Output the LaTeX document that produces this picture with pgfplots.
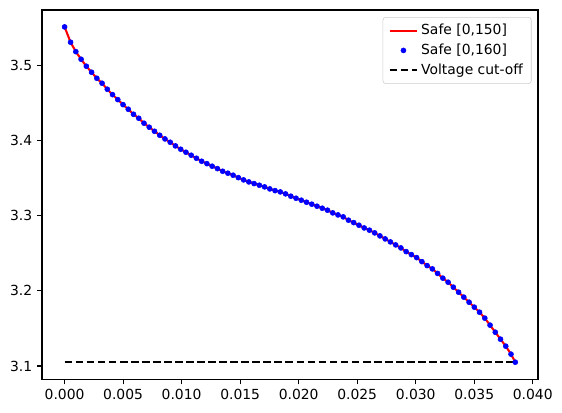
\documentclass[border=0pt]{standalone}
\usepackage{fontspec}
\setmainfont{DejaVu Sans}
\usepackage{pgfplots}
\usepackage{pgfplotstable}
\pgfplotsset{compat=1.18}
\pgfplotsset{
  lineleg/.style={legend image code/.code={\draw[##1] (0pt,0pt) -- (20pt,0pt);}},
  dotleg/.style={legend image code/.code={\draw[mark repeat=2,mark phase=2,##1] plot coordinates {(0pt,0pt) (10pt,0pt) (20pt,0pt)};}},
}

% voltage curve, both solver runs give the same points
\pgfplotstableread{
x y
0.000000 3.5510
0.000512 3.5306
0.000960 3.5181
0.001408 3.5080
0.001856 3.4987
0.002304 3.4907
0.002752 3.4827
0.003200 3.4761
0.003648 3.4681
0.004096 3.4609
0.004544 3.4543
0.004992 3.4476
0.005440 3.4415
0.005888 3.4348
0.006336 3.4295
0.006784 3.4229
0.007232 3.4176
0.007680 3.4122
0.008128 3.4069
0.008576 3.4020
0.009024 3.3976
0.009472 3.3927
0.009920 3.3883
0.010368 3.3843
0.010816 3.3803
0.011264 3.3763
0.011712 3.3723
0.012160 3.3691
0.012608 3.3657
0.013056 3.3625
0.013504 3.3590
0.013952 3.3564
0.014400 3.3537
0.014848 3.3505
0.015296 3.3475
0.015744 3.3448
0.016192 3.3426
0.016640 3.3404
0.017088 3.3382
0.017536 3.3355
0.017984 3.3332
0.018432 3.3315
0.018880 3.3289
0.019328 3.3258
0.019776 3.3231
0.020224 3.3205
0.020672 3.3178
0.021120 3.3152
0.021568 3.3125
0.022016 3.3098
0.022464 3.3072
0.022912 3.3036
0.023360 3.3009
0.023808 3.2983
0.024256 3.2939
0.024704 3.2907
0.025152 3.2872
0.025600 3.2836
0.026048 3.2806
0.026496 3.2770
0.026944 3.2730
0.027392 3.2690
0.027840 3.2650
0.028288 3.2610
0.028736 3.2570
0.029184 3.2521
0.029632 3.2481
0.030080 3.2441
0.030528 3.2388
0.030976 3.2335
0.031424 3.2291
0.031872 3.2231
0.032320 3.2168
0.032768 3.2114
0.033216 3.2048
0.033664 3.1981
0.034112 3.1915
0.034560 3.1848
0.035008 3.1782
0.035456 3.1715
0.035904 3.1636
0.036352 3.1543
0.036800 3.1449
0.037248 3.1356
0.037696 3.1263
0.038144 3.1157
0.038510 3.1050
}\voltage

\begin{document}
\begin{tikzpicture}
\begin{axis}[
scale only axis,
width=357pt, height=266pt,
xmin=-0.00193, xmax=0.04045,
ymin=3.0819, ymax=3.5735,
axis line style={line width=0.8pt},
tick style={line width=0.8pt, black},
tick align=outside,
major tick length=3.5pt,
xtick={0,0.005,...,0.0401},
ytick={3.1,3.2,3.3,3.4,3.5},
scaled x ticks=false,
xticklabel style={/pgf/number format/fixed, /pgf/number format/fixed zerofill, /pgf/number format/precision=3},
yticklabel style={/pgf/number format/fixed, /pgf/number format/fixed zerofill, /pgf/number format/precision=1},
/pgf/number format/assume math mode=true,
xtick pos=bottom, ytick pos=left,
legend cell align=left,
legend style={at={(0.987,0.981)}, anchor=north east, draw=black!20, rounded corners=2pt,
  font=\fontsize{10}{12}\selectfont, row sep=1.2pt, inner xsep=4pt, inner ysep=3pt,
  /tikz/every even column/.append style={column sep=6pt}},
]
\addplot[color=red, line width=1.5pt, lineleg] table {\voltage};
\addlegendentry{Safe [0,150]}
\addplot[only marks, mark=*, mark size=1.8pt, color=blue, dotleg] table {\voltage};
\addlegendentry{Safe [0,160]}
\addplot[black, line width=1.5pt, dash pattern=on 5.55pt off 2.4pt, lineleg] coordinates {(0,3.105) (0.03851,3.105)};
\addlegendentry{Voltage cut-off}
\end{axis}
\path ([xshift=-30.24pt,yshift=-24.05pt]current axis.south west) rectangle ([xshift=17.28pt,yshift=7.2pt]current axis.north east);
\end{tikzpicture}
\end{document}
